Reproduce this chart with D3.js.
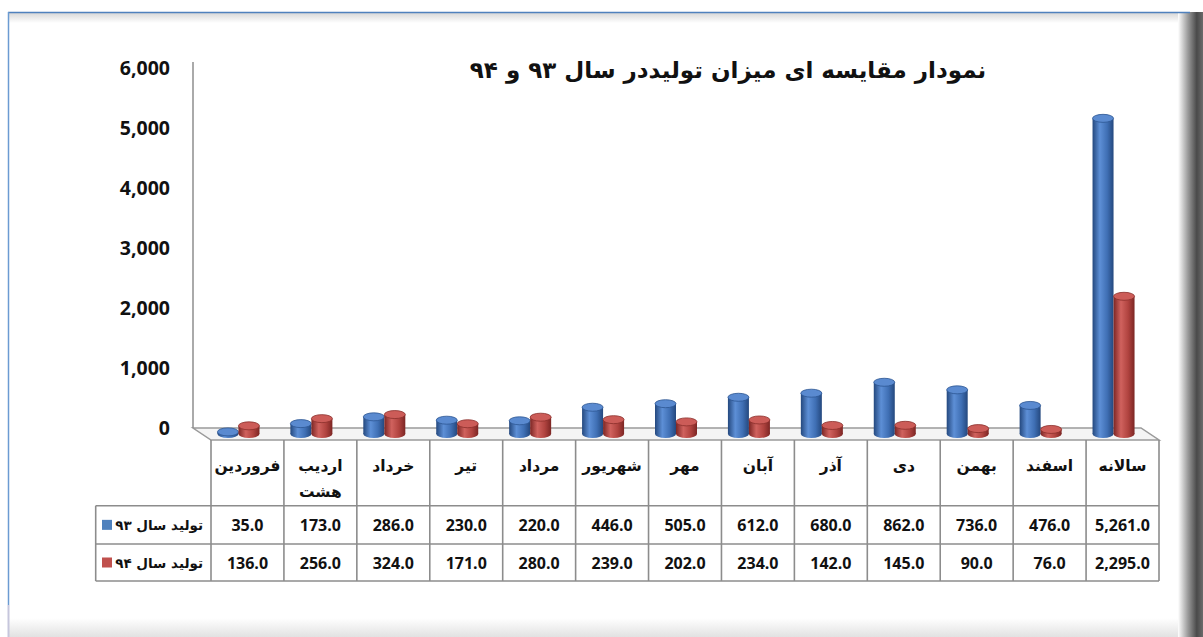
<!DOCTYPE html>
<html lang="fa">
<head>
    <meta charset="UTF-8">
    <title>نمودار مقایسه ای میزان تولید</title>
    <script src="https://cdn.jsdelivr.net/npm/d3@7/dist/d3.min.js"></script>
    <style>
        body { margin: 0; background: #fff; }
        svg text.num { font-family: "Open Sans", sans-serif; font-weight: bold; fill: #111; }
        svg text.fa { font-family: "DejaVu Sans", sans-serif; font-weight: bold; fill: #111; }
        svg g.axis text { font-family: "Open Sans", sans-serif; font-weight: bold; font-size: 19.5px; fill: #111; }
    </style>
</head>
<body>
<script>
    //data
    var categories = ['فروردین', 'اردیب هشت', 'خرداد', 'تیر', 'مرداد', 'شهریور', 'مهر', 'آبان', 'آذر', 'دی', 'بهمن', 'اسفند', 'سالانه'];
    var series93 = [35, 173, 286, 230, 220, 446, 505, 612, 680, 862, 736, 476, 5261];
    var series94 = [136, 256, 324, 171, 280, 239, 202, 234, 142, 145, 90, 76, 2295];
    var seriesNames = ['تولید سال ۹۳', 'تولید سال ۹۴'];
    var yTicks = [0, 1000, 2000, 3000, 4000, 5000, 6000];
    var title = 'نمودار مقایسه ای میزان تولیددر سال ۹۳ و ۹۴';

    //size and layout
    var w = 1203, h = 637;
    var plotLeft = 211, plotRight = 1159;
    var floorFront = 440, depthX = 18, depthY = 12;
    var rowTop = [440, 505.7, 544, 581];
    var legendLeft = 95.7;

    var svg = d3.select('body').append('svg')
        .attr('width', w)
        .attr('height', h);

    var defs = svg.append('defs');

    //gradients for cylinders
    function cylGrad(id, dark, mid, light) {
        var g = defs.append('linearGradient').attr('id', id)
            .attr('x1', '0%').attr('x2', '100%').attr('y1', '0%').attr('y2', '0%');
        g.append('stop').attr('offset', '0%').attr('stop-color', dark);
        g.append('stop').attr('offset', '35%').attr('stop-color', light);
        g.append('stop').attr('offset', '70%').attr('stop-color', mid);
        g.append('stop').attr('offset', '100%').attr('stop-color', dark);
    }
    cylGrad('gBlue', '#24487e', '#3f6fb4', '#5d8fd6');
    cylGrad('gRed', '#7c2624', '#b0433f', '#d0625e');

    //frame shading
    var gs = defs.append('linearGradient').attr('id', 'gSide')
        .attr('x1', '0%').attr('x2', '100%').attr('y1', '0%').attr('y2', '0%');
    gs.append('stop').attr('offset', '0%').attr('stop-color', '#ffffff');
    gs.append('stop').attr('offset', '40%').attr('stop-color', '#9a9a9a');
    gs.append('stop').attr('offset', '75%').attr('stop-color', '#4a4a4a');
    gs.append('stop').attr('offset', '100%').attr('stop-color', '#6a6a6a');
    var gt = defs.append('linearGradient').attr('id', 'gTop')
        .attr('x1', '0%').attr('x2', '0%').attr('y1', '0%').attr('y2', '100%');
    gt.append('stop').attr('offset', '0%').attr('stop-color', '#d8d8d8');
    gt.append('stop').attr('offset', '100%').attr('stop-color', '#ffffff');
    var gb = defs.append('linearGradient').attr('id', 'gBottom')
        .attr('x1', '0%').attr('x2', '0%').attr('y1', '0%').attr('y2', '100%');
    gb.append('stop').attr('offset', '0%').attr('stop-color', '#ffffff');
    gb.append('stop').attr('offset', '100%').attr('stop-color', '#e2e2e2');

    svg.append('rect').attr('x', 8).attr('y', 13).attr('width', 1175).attr('height', 10).attr('fill', 'url(#gTop)');
    svg.append('rect').attr('x', 8).attr('y', 618).attr('width', 1175).attr('height', 19).attr('fill', 'url(#gBottom)');
    svg.append('rect').attr('x', 1178).attr('y', 12).attr('width', 25).attr('height', 625).attr('fill', 'url(#gSide)');
    svg.append('line').attr('x1', 8).attr('x2', 1190).attr('y1', 12.5).attr('y2', 12.5)
        .attr('stroke', '#4f81bd').attr('stroke-width', 1.5);
    svg.append('line').attr('x1', 8.5).attr('x2', 8.5).attr('y1', 12).attr('y2', 605)
        .attr('stroke', '#6b9bd2').attr('stroke-width', 1.5);
    svg.append('line').attr('x1', 8.5).attr('x2', 8.5).attr('y1', 605).attr('y2', 637)
        .attr('stroke', '#c6c6dc').attr('stroke-width', 2);

    //scales
    var xScale = d3.scaleBand().domain(categories).range([plotLeft, plotRight]);
    var yWall = d3.scaleLinear().domain([0, 6000]).range([floorFront - depthY, floorFront - depthY - 360]);
    var yBar = d3.scaleLinear().domain([0, 6000]).range([floorFront - depthY / 2, floorFront - depthY / 2 - 360]);

    //floor and back wall
    svg.append('polygon')
        .attr('points', [
            [plotLeft - depthX, floorFront - depthY], [plotRight - depthX, floorFront - depthY],
            [plotRight, floorFront], [plotLeft, floorFront]
        ].join(' '))
        .attr('fill', '#f4f4f4').attr('stroke', '#9a9a9a').attr('stroke-width', 1.5);
    svg.append('line')
        .attr('x1', plotLeft - depthX).attr('x2', plotLeft - depthX)
        .attr('y1', yWall(6000) - 6).attr('y2', yWall(0))
        .attr('stroke', '#8e8e8e').attr('stroke-width', 1.5);

    //y axis labels
    var yAxis = d3.axisLeft(yWall).tickValues(yTicks).tickSize(0).tickPadding(23).tickFormat(d3.format(','));
    svg.append('g')
        .attr('class', 'axis')
        .attr('transform', 'translate(' + (plotLeft - depthX) + ',0)')
        .call(yAxis)
        .call(function(g) { g.select('.domain').remove(); });

    //cylinders
    var barW = 21, ry = 4;
    var bars = [];
    categories.forEach(function(c, i) {
        var cx = xScale(c) + xScale.bandwidth() / 2 - depthX / 2;
        bars.push({ x0: cx - barW, v: series93[i], grad: 'gBlue', top: '#5a8ad0', edge: '#2c5592' });
        bars.push({ x0: cx, v: series94[i], grad: 'gRed', top: '#cc5c58', edge: '#8a2e2b' });
    });

    var cyl = svg.selectAll('g.cyl')
        .data(bars)
        .enter()
        .append('g')
        .attr('class', 'cyl');
    cyl.append('ellipse')
        .attr('cx', function(d) { return d.x0 + barW / 2; })
        .attr('cy', yBar(0))
        .attr('rx', barW / 2).attr('ry', ry)
        .attr('fill', function(d) { return 'url(#' + d.grad + ')'; });
    cyl.append('rect')
        .attr('x', function(d) { return d.x0; })
        .attr('y', function(d) { return yBar(d.v); })
        .attr('width', barW)
        .attr('height', function(d) { return yBar(0) - yBar(d.v); })
        .attr('fill', function(d) { return 'url(#' + d.grad + ')'; });
    cyl.append('ellipse')
        .attr('cx', function(d) { return d.x0 + barW / 2; })
        .attr('cy', function(d) { return yBar(d.v); })
        .attr('rx', barW / 2).attr('ry', ry)
        .attr('fill', function(d) { return d.top; })
        .attr('stroke', function(d) { return d.edge; })
        .attr('stroke-width', 0.8);

    //title
    svg.append('text')
        .attr('class', 'fa')
        .attr('x', 728).attr('y', 78)
        .attr('text-anchor', 'middle')
        .attr('font-size', '23px')
        .text(title);

    //data table grid
    var grid = svg.append('g').attr('stroke', '#8c8c8c').attr('stroke-width', 1.6);
    var edges = categories.map(function(c) { return xScale(c); }).concat([plotRight]);
    grid.selectAll('line.v')
        .data(edges)
        .enter()
        .append('line')
        .attr('x1', function(d) { return d; }).attr('x2', function(d) { return d; })
        .attr('y1', rowTop[0]).attr('y2', rowTop[3]);
    grid.selectAll('line.h')
        .data(rowTop.slice(1))
        .enter()
        .append('line')
        .attr('x1', legendLeft).attr('x2', plotRight)
        .attr('y1', function(d) { return d; }).attr('y2', function(d) { return d; });
    grid.append('line')
        .attr('x1', legendLeft).attr('x2', legendLeft)
        .attr('y1', rowTop[1]).attr('y2', rowTop[3]);

    //header labels
    svg.selectAll('text.head')
        .data(categories)
        .enter()
        .append('text')
        .attr('class', 'fa head')
        .attr('text-anchor', 'middle')
        .attr('font-size', '15.5px')
        .attr('x', function(d) { return xScale(d) + xScale.bandwidth() / 2; })
        .attr('y', 471)
        .each(function(d) {
            var parts = d.split(' ');
            var t = d3.select(this);
            parts.forEach(function(p, k) {
                t.append('tspan')
                    .attr('x', xScale(d) + xScale.bandwidth() / 2)
                    .attr('dy', k === 0 ? 0 : 26)
                    .text(p);
            });
        });

    //value rows
    var fmt = d3.format(',.1f');
    var rows = [series93, series94];
    var swatch = ['#4f81bd', '#c0504d'];
    rows.forEach(function(vals, r) {
        var cy = (rowTop[r + 1] + rowTop[r + 2]) / 2;
        svg.selectAll('text.row' + r)
            .data(vals)
            .enter()
            .append('text')
            .attr('class', 'num row' + r)
            .attr('text-anchor', 'middle')
            .attr('font-size', '16px')
            .attr('x', function(d, i) { return xScale(categories[i]) + xScale.bandwidth() / 2; })
            .attr('y', cy + 6)
            .text(function(d) { return fmt(d); });
        svg.append('rect')
            .attr('x', 102).attr('y', cy - 5)
            .attr('width', 10).attr('height', 10)
            .attr('fill', swatch[r]);
        svg.append('text')
            .attr('class', 'fa')
            .attr('text-anchor', 'end')
            .attr('font-size', '13.5px')
            .attr('x', 203).attr('y', cy + 5)
            .text(seriesNames[r]);
    });
</script>
</body>
</html>
